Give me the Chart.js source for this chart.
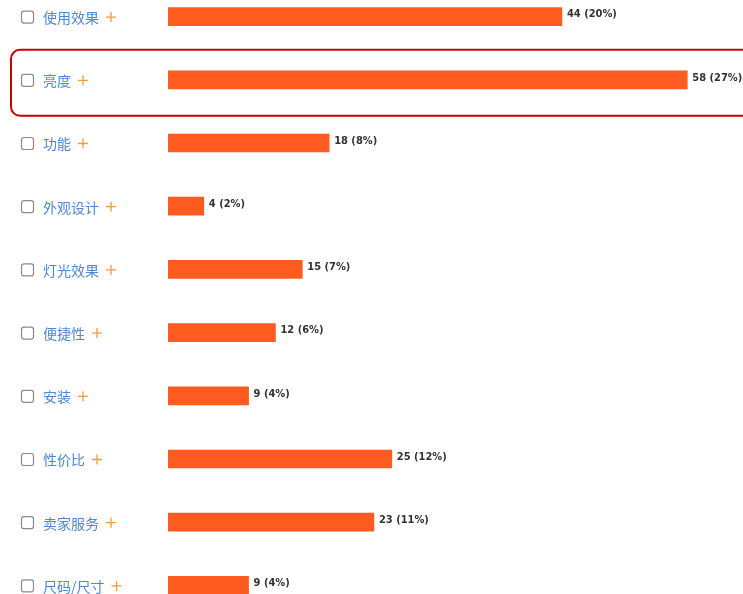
<!DOCTYPE html>
<html lang="zh">
<head>
<meta charset="UTF-8">
<title>评价标签</title>
<script src="https://cdn.jsdelivr.net/npm/chart.js"></script>
<style>
  body, html {
    margin: 0;
    width: 743px;
    height: 594px;
    overflow: hidden;
    background: #fff;
  }
  #tagChart {
    position: absolute;
    left: 0;
    top: -15px;
  }
</style>
</head>
<body>
<canvas id="tagChart" width="743" height="632"></canvas>
<script>
const categories = ["使用效果", "亮度", "功能", "外观设计", "灯光效果", "便捷性", "安装", "性价比", "卖家服务", "尺码/尺寸"];
const counts = [44, 58, 18, 4, 15, 12, 9, 25, 23, 9];
const percents = [20, 27, 8, 2, 7, 6, 4, 12, 11, 4];
const highlighted = "亮度";

// checkbox + blue tag name + orange plus on the left, value labels after bars
const tagPlugin = {
  id: 'tags',
  afterDraw(chart) {
    const { ctx } = chart;
    const y = chart.scales.y;
    const meta = chart.getDatasetMeta(0);
    ctx.save();
    categories.forEach((name, i) => {
      const cy = y.getPixelForValue(i);

      // checkbox
      ctx.strokeStyle = '#8a8a8a';
      ctx.lineWidth = 1.2;
      ctx.beginPath();
      ctx.roundRect(21.5, cy - 5.5, 12, 12, 2.5);
      ctx.stroke();

      // tag name
      ctx.font = '14px "Noto Sans CJK SC", sans-serif';
      ctx.fillStyle = '#5087d3';
      ctx.textAlign = 'left';
      ctx.textBaseline = 'middle';
      ctx.fillText(name, 43, cy + 1);
      const w = ctx.measureText(name).width;

      // plus sign
      ctx.strokeStyle = '#f39a3c';
      ctx.lineWidth = 1.3;
      const px = 43 + w + 12;
      ctx.beginPath();
      ctx.moveTo(px - 5, cy + 0.5);
      ctx.lineTo(px + 5, cy + 0.5);
      ctx.moveTo(px, cy - 4.5);
      ctx.lineTo(px, cy + 5.5);
      ctx.stroke();

      // value label
      const bar = meta.data[i];
      ctx.font = 'bold 11px "DejaVu Sans Condensed", "DejaVu Sans", sans-serif';
      ctx.fillStyle = '#333';
      ctx.fillText(`${counts[i]} (${percents[i]}%)`, bar.x + 5, cy - 2);

      // red frame around highlighted row
      if (name === highlighted) {
        ctx.strokeStyle = '#c80000';
        ctx.lineWidth = 2;
        ctx.beginPath();
        ctx.roundRect(11, cy - 30, 760, 66, 9);
        ctx.stroke();
      }
    });
    ctx.restore();
  }
};

new Chart(document.getElementById('tagChart'), {
  type: 'bar',
  data: {
    labels: categories,
    datasets: [{
      data: counts,
      backgroundColor: '#ff5a1f',
      barThickness: 18,
      borderWidth: 0
    }]
  },
  options: {
    indexAxis: 'y',
    responsive: false,
    animation: false,
    layout: { padding: { left: 168, right: 2, top: 0, bottom: 0 } },
    scales: {
      x: { display: false, min: 0, max: 64, grid: { display: false } },
      y: { display: false, grid: { display: false } }
    },
    plugins: {
      legend: { display: false },
      tooltip: { enabled: false }
    }
  },
  plugins: [tagPlugin]
});
</script>
</body>
</html>
